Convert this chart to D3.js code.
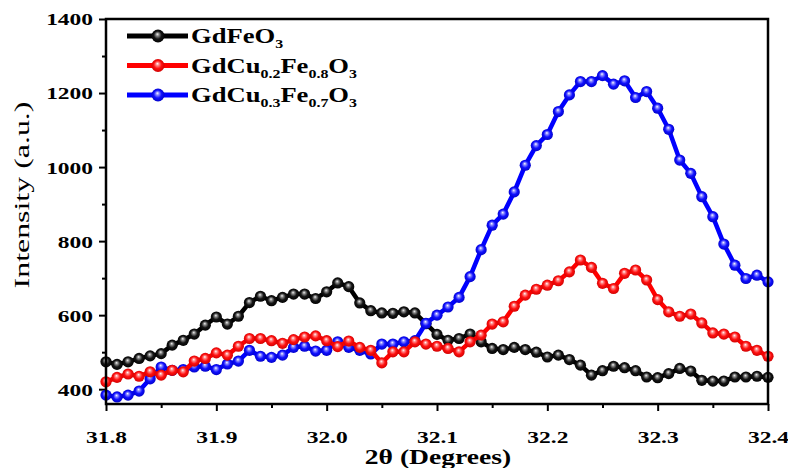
<!DOCTYPE html>
<html>
<head>
<meta charset="utf-8">
<script src="https://cdn.jsdelivr.net/npm/d3@7"></script>
<style>
  html, body { margin: 0; padding: 0; background: #fff; }
  svg { display: block; }
  text { font-family: "Liberation Serif", "Times New Roman", serif; }
</style>
</head>
<body>
<svg id="chart" width="788" height="468"></svg>
<script>
// ---- data ----
const twoTheta = d3.range(61).map(i => +(31.8 + i * 0.01).toFixed(2));
const gdFeO3 = [474,467,474,483,490,496,519,532,549,573,595,576,597,634,651,639,648,657,657,645,
  663,687,677,633,612,606,605,609,606,577,548,532,537,549,528,510,507,513,507,500,
  487,492,480,465,438,450,462,458,450,433,431,442,456,449,424,422,422,433,433,435,432];
const gdCu02 = [420,432,441,435,447,438,451,447,476,483,498,492,516,537,537,531,524,534,541,544,
  531,515,530,513,505,471,501,501,528,522,516,510,501,528,546,576,582,624,654,670,
  681,693,717,749,729,686,672,713,722,695,642,609,597,603,579,552,549,541,516,505,489];
const gdCu03 = [384,379,384,395,428,460,451,453,460,462,453,468,476,505,489,486,492,513,516,503,
  505,528,513,505,495,522,522,528,531,578,600,622,648,704,777,843,873,933,1005,1058,
  1088,1150,1195,1231,1231,1247,1224,1233,1188,1204,1159,1102,1019,983,920,866,792,735,699,708,690];
const xTicks = [31.8, 31.9, 32.0, 32.1, 32.2, 32.3, 32.4];
const xMinor = [31.85, 31.95, 32.05, 32.15, 32.25, 32.35];
const yTicks = [400, 600, 800, 1000, 1200, 1400];
const yMinor = [500, 700, 900, 1100, 1300];
const seriesNames = [
  [["GdFeO", false], ["3", true]],
  [["GdCu", false], ["0.2", true], ["Fe", false], ["0.8", true], ["O", false], ["3", true]],
  [["GdCu", false], ["0.3", true], ["Fe", false], ["0.7", true], ["O", false], ["3", true]]
];
const seriesColors = ["#000000", "#ff0000", "#0000ff"];
const seriesData = [gdFeO3, gdCu02, gdCu03];

// ---- chart ----
const svg = d3.select("#chart");
const x = d3.scaleLinear().domain([31.8, 32.4]).range([106, 768]);
const y = d3.scaleLinear().domain([360, 1400]).range([404, 19]);
const SX = 1.38;

// gradients
const defs = svg.append("defs");
const gradSpec = [
  {id: "g0", stops: [["0%", "#f4f4f4"], ["22%", "#8a8a8a"], ["55%", "#141414"], ["100%", "#000"]]},
  {id: "g1", stops: [["0%", "#ffffff"], ["22%", "#ff8a8a"], ["55%", "#ff1010"], ["100%", "#c80000"]]},
  {id: "g2", stops: [["0%", "#ffffff"], ["22%", "#8a8aff"], ["55%", "#1010ff"], ["100%", "#0000c0"]]}
];
gradSpec.forEach(g => {
  const rg = defs.append("radialGradient").attr("id", g.id)
    .attr("cx", "50%").attr("cy", "50%").attr("r", "55%")
    .attr("fx", "45%").attr("fy", "35%");
  g.stops.forEach(s => rg.append("stop").attr("offset", s[0]).attr("stop-color", s[1]));
});

// axes
const yAxis = svg.append("g").attr("transform", "translate(106,0)")
  .call(d3.axisLeft(y).tickValues(yTicks).tickSize(7).tickSizeOuter(0).tickPadding(0).tickFormat(d3.format("d")));
const xAxis = svg.append("g").attr("transform", "translate(0,404)")
  .call(d3.axisBottom(x).tickValues(xTicks).tickSize(7).tickSizeOuter(0).tickFormat(d3.format(".1f")));
svg.append("g").attr("transform", "translate(106,0)")
  .call(d3.axisLeft(y).tickValues(yMinor).tickSize(4).tickSizeOuter(0).tickFormat(""));
svg.append("g").attr("transform", "translate(0,404)")
  .call(d3.axisBottom(x).tickValues(xMinor).tickSize(4).tickSizeOuter(0).tickFormat(""));
svg.selectAll(".domain").remove();
svg.selectAll(".tick line").attr("stroke", "#000").attr("stroke-width", 2);

yAxis.selectAll("text")
  .attr("font-size", 17).attr("font-weight", "bold").attr("fill", "#000")
  .attr("font-family", "Liberation Serif")
  .attr("x", -13 / SX).attr("dy", "0.35em")
  .attr("transform", `scale(${SX},1)`);
xAxis.selectAll("text")
  .attr("font-size", 17).attr("font-weight", "bold").attr("fill", "#000")
  .attr("font-family", "Liberation Serif")
  .attr("y", 27).attr("dy", "0.71em")
  .attr("transform", `scale(${SX},1)`);

// series
const line = d3.line().x((d, i) => x(twoTheta[i])).y(d => y(d));
const drawOrder = [0, 2, 1];
const plot = svg.append("g");
drawOrder.forEach(si => {
  const g = plot.append("g");
  g.append("path").datum(seriesData[si])
    .attr("d", line).attr("fill", "none")
    .attr("stroke", seriesColors[si]).attr("stroke-width", 4.5)
    .attr("stroke-linejoin", "round");
  g.selectAll("circle").data(seriesData[si]).join("circle")
    .attr("cx", (d, i) => x(twoTheta[i])).attr("cy", d => y(d))
    .attr("r", 5.6).attr("fill", `url(#g${si})`);
});

// frame
svg.append("rect").attr("x", 106).attr("y", 19).attr("width", 662).attr("height", 385)
  .attr("fill", "none").attr("stroke", "#000").attr("stroke-width", 2.5);

// legend
const legendY = [36, 65.5, 95];
seriesNames.forEach((parts, i) => {
  const lg = svg.append("g").attr("transform", `translate(127,${legendY[i]})`);
  lg.append("line").attr("x1", 0).attr("x2", 61).attr("y1", 0).attr("y2", 0)
    .attr("stroke", seriesColors[i]).attr("stroke-width", 5);
  lg.append("circle").attr("cx", 31).attr("cy", 0).attr("r", 6.5).attr("fill", `url(#g${i})`);
  const tg = svg.append("g").attr("transform", `translate(191,${legendY[i] + 7}) scale(1.33,1)`);
  const t = tg.append("text").attr("font-size", 20).attr("font-weight", "bold").attr("fill", "#000");
  let shifted = false;
  parts.forEach(p => {
    const ts = t.append("tspan").text(p[0]);
    if (p[1]) { ts.attr("font-size", 12).attr("dy", 5); shifted = true; }
    else if (shifted) { ts.attr("dy", -5); shifted = false; }
  });
});

// axis titles
svg.append("g").attr("transform", "translate(29,195) scale(1,1.45) rotate(-90)")
  .append("text").attr("text-anchor", "middle").attr("font-size", 22)
  .attr("fill", "#000").text("Intensity (a.u.)");
svg.append("g").attr("transform", "translate(438,464) scale(1.38,1)")
  .append("text").attr("text-anchor", "middle").attr("font-size", 20)
  .attr("font-weight", "bold").attr("fill", "#000").text("2θ (Degrees)");
</script>
</body>
</html>
